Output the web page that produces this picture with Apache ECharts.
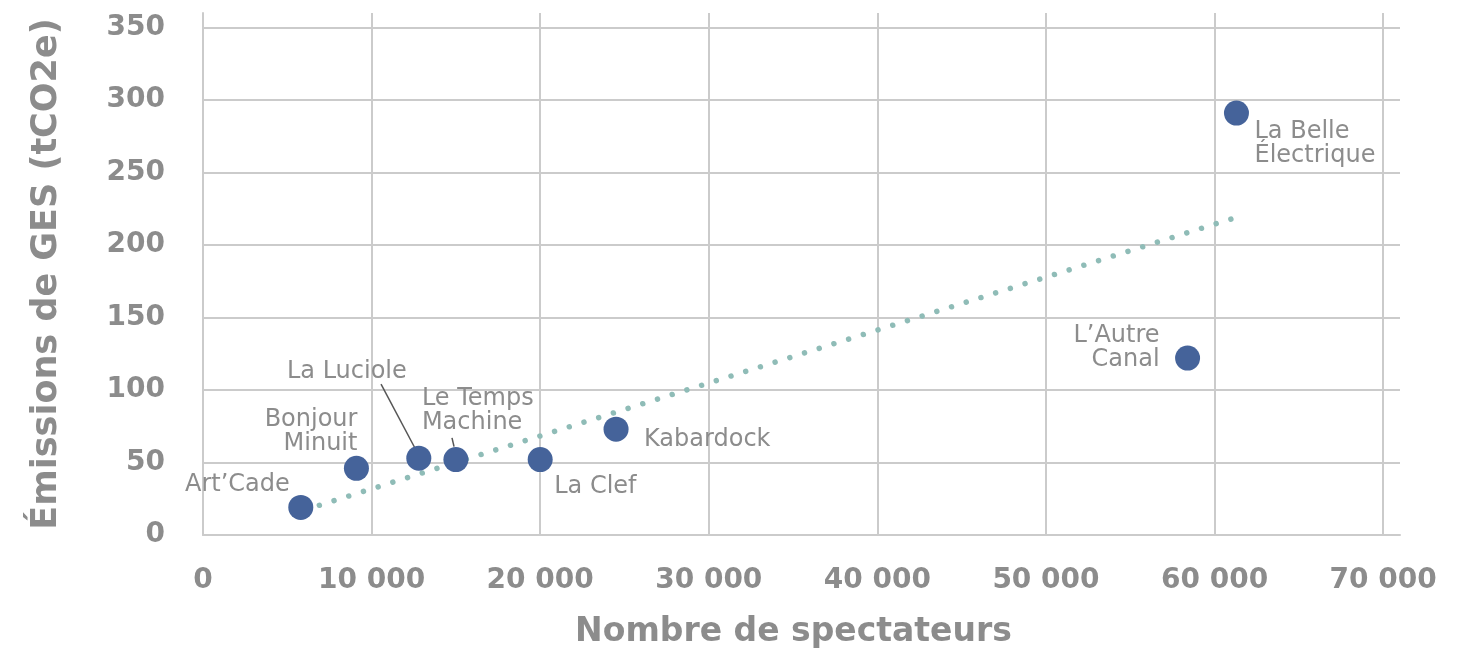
<!DOCTYPE html>
<html>
<head>
<meta charset="utf-8">
<script src="https://cdn.jsdelivr.net/npm/echarts@6/dist/echarts.min.js"></script>
<style>
html,body{margin:0;padding:0;background:#fff;}
#chart{width:1468px;height:654px;}
</style>
</head>
<body>
<div id="chart"></div>
<script>
// ---- data ----
const venueNames = ['Art’Cade', 'Bonjour\nMinuit', 'La Luciole', 'Le Temps\nMachine', 'La Clef', 'Kabardock', 'L’Autre\nCanal', 'La Belle\nÉlectrique'];
const spectators = [5800, 9100, 12800, 15000, 20000, 24500, 58400, 61300];
const emissions = [19, 46, 53, 52, 52, 73, 122, 291];
const trendX = [6900, 61000];
const trendY = [20.5, 218];
const leaderLucioleX = [10560, 12570];
const leaderLucioleY = [104, 60];
const leaderTempsX = [14770, 14890];
const leaderTempsY = [67, 61];
const xTitle = 'Nombre de spectateurs';
const yTitle = 'Émissions de GES (tCO2e)';

// ---- layout (label placement) ----
const labelLayout = [
  {align: 'right', offset: [-11, -23]},
  {align: 'right', offset: [1, -37]},
  {align: 'right', offset: [-12, -86]},
  {align: 'left', offset: [-34, -49]},
  {align: 'left', offset: [14, 27]},
  {align: 'left', offset: [28, 11]},
  {align: 'right', offset: [-28, -10]},
  {align: 'left', offset: [18, 31]}
];

const gridColor = '#cbcbcb';
const textGray = '#8c8c8c';
const fmt = v => {
  const s = String(Math.round(v));
  return s.replace(/\B(?=(\d{3})+(?!\d))/g, ' ');
};

const points = spectators.map((x, i) => ({
  value: [x, emissions[i]],
  name: venueNames[i],
  label: {align: labelLayout[i].align, offset: labelLayout[i].offset}
}));

const chart = echarts.init(document.getElementById('chart'), null, {renderer: 'canvas'});
chart.setOption({
  animation: false,
  backgroundColor: '#ffffff',
  grid: {left: 203, right: 68, top: 13, bottom: 115, containLabel: false},
  xAxis: {
    type: 'value', min: 0, max: 71000, interval: 10000,
    name: xTitle, nameLocation: 'middle', nameGap: 81,
    nameTextStyle: {fontFamily: 'DejaVu Sans', fontWeight: 'bold', fontSize: 33, color: textGray, padding: [0, 16, 0, 0]},
    axisLine: {show: true, lineStyle: {color: gridColor, width: 2}},
    axisTick: {show: false},
    axisLabel: {
      margin: 32, fontFamily: 'DejaVu Sans', fontWeight: 'bold', fontSize: 28, color: textGray,
      showMaxLabel: false,
      formatter: v => (v > 70000 ? '' : fmt(v))
    },
    splitLine: {show: true, showMaxLine: false, lineStyle: {color: gridColor, width: 2}}
  },
  yAxis: {
    type: 'value', min: 0, max: 360, interval: 50,
    name: yTitle, nameLocation: 'middle', nameGap: 139, nameRotate: 90,
    nameTextStyle: {fontFamily: 'DejaVu Sans', fontWeight: 'bold', fontSize: 35, color: textGray},
    axisLine: {show: true, lineStyle: {color: gridColor, width: 2}},
    axisTick: {show: false},
    axisLabel: {
      margin: 38, fontFamily: 'DejaVu Sans', fontWeight: 'bold', fontSize: 28, color: textGray,
      showMaxLabel: false,
      formatter: v => (v > 350 ? '' : String(v))
    },
    splitLine: {show: true, showMaxLine: false, lineStyle: {color: gridColor, width: 2}}
  },
  series: [
    {
      type: 'line',
      data: trendX.map((x, i) => [x, trendY[i]]),
      symbol: 'none',
      lineStyle: {color: '#8fbcb7', width: 5.5, type: [0.01, 15.4], cap: 'round'},
      z: 2, silent: true
    },
    {
      type: 'line',
      data: leaderLucioleX.map((x, i) => [x, leaderLucioleY[i]]),
      symbol: 'none',
      lineStyle: {color: '#555555', width: 1.5},
      z: 3, silent: true
    },
    {
      type: 'line',
      data: leaderTempsX.map((x, i) => [x, leaderTempsY[i]]),
      symbol: 'none',
      lineStyle: {color: '#555555', width: 1.5},
      z: 3, silent: true
    },
    {
      type: 'scatter',
      data: points,
      symbolSize: 25,
      itemStyle: {color: '#45639a', opacity: 1},
      z: 5,
      label: {
        show: true, position: 'inside',
        formatter: p => p.name,
        fontFamily: 'DejaVu Sans', fontSize: 24, lineHeight: 24,
        color: textGray, verticalAlign: 'middle'
      }
    }
  ]
});
</script>
</body>
</html>
